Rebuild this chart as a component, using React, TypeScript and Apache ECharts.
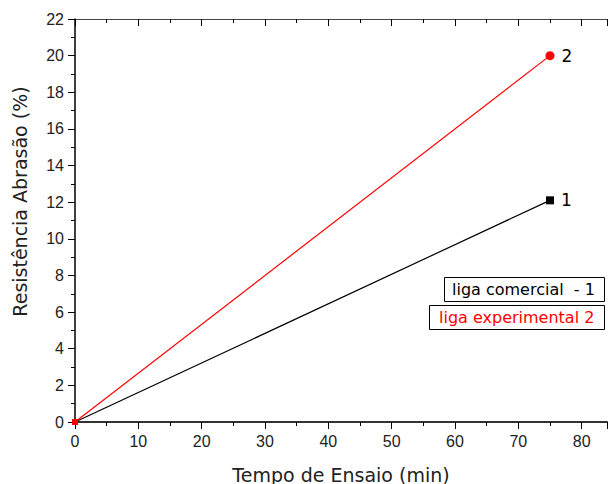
import React, { useEffect, useRef } from "react";
import * as echarts from "echarts";

const timeMin = [0, 75];
const seriesNames = ["liga comercial  - 1", "liga experimental 2"];
const pointTags = ["1", "2"];
const valuesComercial = [0, 12.1];
const valuesExperimental = [0, 20];
const colors = ["#000000", "#ff0000"];

const FONT = "Liberation Sans, Arial, sans-serif";
const WIDE = "DejaVu Sans, Verdana, sans-serif";

export default function App() {
  const ref = useRef<HTMLDivElement>(null);
  useEffect(() => {
    if (!ref.current) return;
    const chart = echarts.init(ref.current, undefined, { renderer: "svg" });
    const mk = (vals: number[], idx: number, sym: string, size: number) =>
      timeMin.map((t, i) => {
        const last = i === timeMin.length - 1;
        return {
          value: [t, vals[i]],
          symbol: last ? sym : "rect",
          symbolSize: last ? size : 6,
          label: last
            ? {
                show: true,
                position: "right",
                distance: 7,
                formatter: pointTags[idx],
                color: "#000",
                fontSize: 17,
                fontFamily: WIDE,
              }
            : { show: false },
        };
      });
    chart.setOption({
      animation: false,
      textStyle: { fontFamily: FONT },
      grid: { left: 75, right: 1, top: 19, bottom: 62, outerBoundsMode: "none", containLabel: false },
      xAxis: [
        {
          type: "value",
          min: 0,
          max: 84,
          interval: 10,
          position: "bottom",
          name: "Tempo de Ensaio (min)",
          nameLocation: "middle",
          nameGap: 43,
          nameTextStyle: { fontSize: 19, color: "#222", fontFamily: WIDE },
          axisLine: { show: true, onZero: false, lineStyle: { color: "#333", width: 2 } },
          axisTick: { show: true, inside: false, length: 7, lineStyle: { color: "#000" } },
          minorTick: { show: true, splitNumber: 2, length: 4, lineStyle: { color: "#000" } },
          axisLabel: { fontSize: 16, color: "#222", margin: 11, fontFamily: FONT, showMaxLabel: false },
          splitLine: { show: false },
        },
        {
          type: "value",
          min: 0,
          max: 84,
          interval: 10,
          position: "top",
          axisLine: { show: true, onZero: false, lineStyle: { color: "#444", width: 1 } },
          axisTick: { show: true, inside: true, length: 7, lineStyle: { color: "#000" } },
          minorTick: { show: true, splitNumber: 2, length: 4, lineStyle: { color: "#000" } },
          axisLabel: { show: false },
          splitLine: { show: false },
        },
      ],
      yAxis: {
        type: "value",
        min: 0,
        max: 22,
        interval: 2,
        name: "Resistência Abrasão (%)",
        nameLocation: "middle",
        nameGap: 46,
        nameTextStyle: { fontSize: 19, color: "#222", fontFamily: WIDE, padding: [0, 0, 0, 38] },
        axisLine: { show: true, onZero: false, lineStyle: { color: "#000", width: 1.5 } },
        axisTick: { show: true, inside: false, length: 7, lineStyle: { color: "#000" } },
        minorTick: { show: true, splitNumber: 2, length: 4, lineStyle: { color: "#000" } },
        axisLabel: { fontSize: 16, color: "#222", margin: 11, fontFamily: FONT },
        splitLine: { show: false },
      },
      series: [
        {
          name: seriesNames[0],
          type: "line",
          data: mk(valuesComercial, 0, "rect", 8),
          itemStyle: { color: colors[0] },
          lineStyle: { color: colors[0], width: 1.2 },
          z: 2,
        },
        {
          name: seriesNames[1],
          type: "line",
          data: mk(valuesExperimental, 1, "circle", 9),
          itemStyle: { color: colors[1] },
          lineStyle: { color: colors[1], width: 1.2 },
          z: 3,
        },
      ],
      graphic: [
        {
          type: "rect",
          shape: { x: 444.5, y: 277.5, width: 160, height: 24 },
          style: { fill: "#fff", stroke: "#000", lineWidth: 1 },
        },
        {
          type: "text",
          x: 452,
          y: 289.5,
          style: {
            text: seriesNames[0],
            fill: colors[0],
            font: "16px " + WIDE,
            textVerticalAlign: "middle",
          },
        },
        {
          type: "rect",
          shape: { x: 429.5, y: 305.5, width: 175, height: 24 },
          style: { fill: "#fff", stroke: "#000", lineWidth: 1 },
        },
        {
          type: "text",
          x: 439,
          y: 317.5,
          style: {
            text: seriesNames[1],
            fill: colors[1],
            font: "16px " + WIDE,
            textVerticalAlign: "middle",
          },
        },
      ],
    });
    return () => chart.dispose();
  }, []);
  return <div ref={ref} style={{ width: 608, height: 484, position: "absolute", left: 0, top: 0 }} />;
}
